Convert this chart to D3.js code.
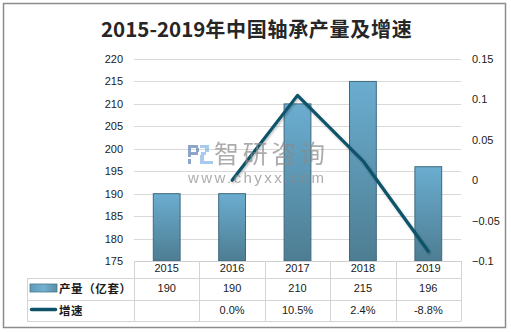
<!DOCTYPE html>
<html>
<head>
<meta charset="utf-8">
<script src="https://cdn.jsdelivr.net/npm/d3@7"></script>
<style>
  html, body { margin: 0; padding: 0; background: #fff; }
  svg { display: block; }
</style>
</head>
<body>
<svg id="chart" width="511" height="332"></svg>
<script>
// Bearing output (100 million sets) and year-on-year growth (%)
const years = ["2015", "2016", "2017", "2018", "2019"];
const output = [190, 190, 210, 215, 196];
const growth = [null, 0.0, 10.5, 2.4, -8.8];
const leftTicks = [175, 180, 185, 190, 195, 200, 205, 210, 215, 220];
const rightTicks = [-0.1, -0.05, 0, 0.05, 0.1, 0.15];
const seriesNames = ["产量（亿套）", "增速"];
const titleYears = "2015-2019";
const titleText = "年中国轴承产量及增速";

const svg = d3.select("#chart");
const numFont = "'Liberation Sans', Arial, sans-serif";
const cjkFont = "'Noto Sans CJK SC', sans-serif";

const plot = { left: 134, right: 461, top: 59, bottom: 261 };
const rowBottoms = [278, 300, 321];
const legendLeft = 27;

const x = d3.scaleBand().domain(years).range([plot.left, plot.right]).padding(0);
const yL = d3.scaleLinear().domain([175, 220]).range([plot.bottom, plot.top]);
const yR = d3.scaleLinear().domain([-0.1, 0.15]).range([plot.bottom, plot.top]);

const defs = svg.append("defs");
const grad = defs.append("linearGradient").attr("id", "barGrad")
  .attr("x1", 0).attr("y1", 0).attr("x2", 0).attr("y2", 1);
grad.append("stop").attr("offset", "0%").attr("stop-color", "#6badd0");
grad.append("stop").attr("offset", "100%").attr("stop-color", "#4d7d92");
const gradH = defs.append("linearGradient").attr("id", "legGrad")
  .attr("x1", 0).attr("y1", 0).attr("x2", 1).attr("y2", 0);
gradH.append("stop").attr("offset", "0%").attr("stop-color", "#5e9ab8");
gradH.append("stop").attr("offset", "50%").attr("stop-color", "#72b1d2");
gradH.append("stop").attr("offset", "100%").attr("stop-color", "#5a8ea6");
const shadow = defs.append("filter").attr("id", "lineShadow")
  .attr("x", "-10%").attr("y", "-10%").attr("width", "120%").attr("height", "120%");
shadow.append("feDropShadow").attr("dx", 1).attr("dy", 1.5).attr("stdDeviation", 1)
  .attr("flood-color", "#000").attr("flood-opacity", 0.25);

// outer frame
svg.append("rect").attr("x", 3.5).attr("y", 3.5).attr("width", 502).attr("height", 324)
  .attr("fill", "#fff").attr("stroke", "#8c8c8c").attr("stroke-width", 1.5);

// title
const title = svg.append("text").attr("x", 101).attr("y", 37)
  .attr("font-family", cjkFont).attr("font-size", 20.5).attr("font-weight", "bold")
  .attr("fill", "#262626");
title.append("tspan").text(titleYears);
const cjkSpan = title.append("tspan").attr("font-size", 20).text(titleText);
const cjkLen = cjkSpan.node().getComputedTextLength();
cjkSpan.attr("letter-spacing", (207 - cjkLen) / titleText.length);

// gridlines
svg.append("g").selectAll("line").data(leftTicks.slice(1)).join("line")
  .attr("x1", plot.left).attr("x2", plot.right)
  .attr("y1", d => Math.round(yL(d)) + 0.5).attr("y2", d => Math.round(yL(d)) + 0.5)
  .attr("stroke", "#d9d9d9").attr("stroke-width", 1);

// left axis labels
const axisL = d3.axisLeft(yL).tickValues(leftTicks).tickSize(0).tickPadding(0).tickFormat(d3.format("d"));
const gL = svg.append("g").attr("transform", `translate(${plot.left - 11},0)`).call(axisL);
gL.select(".domain").remove();
gL.selectAll("text").attr("font-family", numFont).attr("font-size", 11).attr("fill", "#1a1a1a");

// right axis labels
const axisR = d3.axisRight(yR).tickValues(rightTicks).tickSize(0).tickPadding(0)
  .tickFormat(d => d3.format("~g")(+d.toFixed(2)));
const gR = svg.append("g").attr("transform", `translate(${plot.right + 11},0)`).call(axisR);
gR.select(".domain").remove();
gR.selectAll("text").attr("font-family", numFont).attr("font-size", 11).attr("fill", "#1a1a1a");

// bars
const barW = x.bandwidth() * 0.41;
svg.append("g").selectAll("rect").data(output).join("rect")
  .attr("x", (d, i) => x(years[i]) + (x.bandwidth() - barW) / 2)
  .attr("y", d => yL(d))
  .attr("width", barW)
  .attr("height", d => yL(175) - yL(d))
  .attr("fill", "url(#barGrad)")
  .attr("stroke", "#3f6a7d").attr("stroke-width", 1);

// growth line
const pts = growth.map((g, i) => ({ year: years[i], g })).filter(p => p.g !== null);
const line = d3.line().x(p => x(p.year) + x.bandwidth() / 2).y(p => yR(p.g / 100));
svg.append("path").datum(pts).attr("d", line)
  .attr("fill", "none").attr("stroke", "#0c5369").attr("stroke-width", 3.2)
  .attr("stroke-linejoin", "round").attr("stroke-linecap", "round")
  .attr("filter", "url(#lineShadow)");

// watermark, laid over the plot
const wm = svg.append("g").attr("opacity", 0.7);
wm.append("path").attr("fill", "#5f7fb5")
  .attr("d", "M188,145h10v3h-7v4h7v3h-7v2h-3zM196,148h3v4h-3zM188,159h3v5h-3z");
wm.append("path").attr("fill", "#84b6e3")
  .attr("d", "M200,145h9v3h-9zM205,148h4v4h-4zM201,152h5v3h-5zM200,155h4v6h9v3h-13z");
wm.append("text").attr("x", 214).attr("y", 163)
  .attr("font-family", cjkFont).attr("font-size", 25).attr("fill", "#8a8a8a")
  .attr("textLength", 111).attr("lengthAdjust", "spacing").text("智研咨询");
wm.append("text").attr("x", 188).attr("y", 183)
  .attr("font-family", numFont).attr("font-size", 15).attr("fill", "#8a8a8a")
  .attr("textLength", 136).attr("lengthAdjust", "spacing").text("www.chyxx.com");

// data table
const tbl = svg.append("g").attr("stroke", "#d4d4d4").attr("stroke-width", 1);
tbl.append("line").attr("x1", plot.left).attr("x2", plot.right)
  .attr("y1", plot.bottom + 0.5).attr("y2", plot.bottom + 0.5).attr("stroke", "#cfcfcf");
rowBottoms.forEach(yb => {
  tbl.append("line").attr("x1", legendLeft).attr("x2", plot.right)
    .attr("y1", yb + 0.5).attr("y2", yb + 0.5);
});
tbl.append("line").attr("x1", legendLeft + 0.5).attr("x2", legendLeft + 0.5)
  .attr("y1", rowBottoms[0]).attr("y2", rowBottoms[2] + 0.5);
years.concat(["end"]).forEach((yr, i) => {
  const xx = Math.round(plot.left + i * x.step()) + 0.5;
  tbl.append("line").attr("x1", xx).attr("x2", xx)
    .attr("y1", plot.bottom).attr("y2", rowBottoms[2] + 0.5);
});

const cellText = (txt, cx, by) => svg.append("text").attr("x", cx).attr("y", by)
  .attr("text-anchor", "middle").attr("font-family", numFont).attr("font-size", 11)
  .attr("fill", "#1a1a1a").text(txt);

years.forEach((yr, i) => {
  const cx = x(yr) + x.bandwidth() / 2;
  cellText(yr, cx, 272);
  cellText(d3.format("d")(output[i]), cx, 292);
  if (growth[i] !== null) cellText(growth[i].toFixed(1) + "%", cx, 314);
});

// legend keys inside the table
svg.append("rect").attr("x", 30).attr("y", 284).attr("width", 27).attr("height", 8)
  .attr("fill", "url(#legGrad)").attr("stroke", "#4a7589").attr("stroke-width", 0.8);
svg.append("line").attr("x1", 31.5).attr("x2", 55.5).attr("y1", 309.5).attr("y2", 309.5)
  .attr("stroke", "#0c5369").attr("stroke-width", 3.5).attr("stroke-linecap", "round");
seriesNames.forEach((name, i) => {
  svg.append("text").attr("x", 59).attr("y", i === 0 ? 292.5 : 314.5)
    .attr("font-family", cjkFont).attr("font-size", 11.5).attr("font-weight", "bold")
    .attr("letter-spacing", 0.6).attr("fill", "#1a1a1a").text(name);
});
</script>
</body>
</html>
